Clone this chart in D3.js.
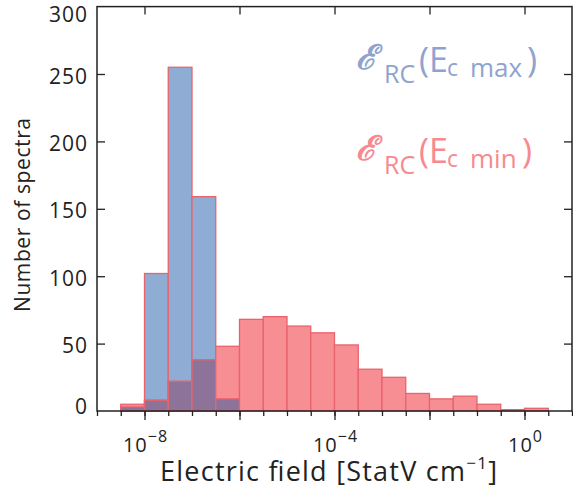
<!DOCTYPE html>
<html>
<head>
<meta charset="utf-8">
<script src="https://cdn.jsdelivr.net/npm/d3@7"></script>
<style>
  body { margin: 0; background: #fff; }
  svg text { font-family: "Open Sans", "DejaVu Sans", sans-serif; }
</style>
</head>
<body>
<div id="chart"></div>
<script>
// log10 of each bin's lower edge (bins are half a decade wide)
var binStarts = [-8.5, -8, -7.5, -7, -6.5, -6, -5.5, -5, -4.5, -4, -3.5, -3, -2.5, -2, -1.5, -1, -0.5, 0];
var countsMax = [3, 102, 255, 159, 9, 0, 0, 0, 0, 0, 0, 0, 0, 0, 0, 0, 0, 0];
var countsMin = [5, 8, 22, 38, 48, 68, 70, 63, 58, 49, 31, 25, 13, 9, 11, 5, 1, 2];
var yTicks = [0, 50, 100, 150, 200, 250, 300];
var xLabelExps = [-8, -4, 0];
var xMajorExps = [-8, -6, -4, -2, 0];

var W = 573, H = 498;
var plotL = 97, plotR = 572, plotT = 6.6, plotB = 411;

var blue = "#8fadd4", pink = "#f78e93", purple = "#8d7399", edge = "#e8636b", ink = "#222";

var svg = d3.select("#chart").append("svg")
    .attr("width", W)
    .attr("height", H);

var x = d3.scaleLog().domain([1e-9, 1e1]).range([plotL, plotR]);
var y = d3.scaleLinear().domain([0, 300]).range([plotB, plotT]);

var bins = binStarts.map(function(s, i) {
    return { lo: Math.pow(10, s), hi: Math.pow(10, s + 0.5), max: countsMax[i], min: countsMin[i] };
});

function bar(g, d, v, fill) {
    g.append("rect")
        .attr("x", x(d.lo))
        .attr("width", x(d.hi) - x(d.lo))
        .attr("y", y(v))
        .attr("height", y(0) - y(v))
        .style("fill", fill)
        .style("stroke", edge)
        .style("stroke-width", 1.3);
}

var bars = svg.append("g");
bins.forEach(function(d) {
    if (d.max > 0) bar(bars, d, d.max, blue);
    if (d.min > 0) bar(bars, d, d.min, pink);
    var both = Math.min(d.max, d.min);
    if (both > 0) bar(bars, d, both, purple);
});

// ticks
var halfDecades = d3.range(-9, 1.01, 0.5).map(function(e) { return Math.pow(10, e); });
var majors = xMajorExps.map(function(e) { return Math.pow(10, e); });

function tickStyle(g) {
    g.select(".domain").remove();
    g.selectAll("line").style("stroke", ink).style("stroke-width", 1.3);
    g.selectAll("text").remove();
}

svg.append("g").attr("transform", "translate(0," + plotB + ")")
    .call(d3.axisBottom(x).tickValues(halfDecades).tickSize(5)).call(tickStyle);
svg.append("g").attr("transform", "translate(0," + plotB + ")")
    .call(d3.axisBottom(x).tickValues(majors).tickSize(9)).call(tickStyle);
svg.append("g").attr("transform", "translate(0," + plotT + ")")
    .call(d3.axisBottom(x).tickValues(majors).tickSize(8)).call(tickStyle);
svg.append("g").attr("transform", "translate(" + plotL + ",0)")
    .call(d3.axisRight(y).tickValues(yTicks.slice(1, -1)).tickSize(8)).call(tickStyle);
svg.append("g").attr("transform", "translate(" + plotR + ",0)")
    .call(d3.axisLeft(y).tickValues(yTicks.slice(1, -1)).tickSize(8)).call(tickStyle);

// frame
svg.append("rect")
    .attr("x", plotL).attr("y", plotT)
    .attr("width", plotR - plotL).attr("height", plotB - plotT)
    .style("fill", "none").style("stroke", ink).style("stroke-width", 1.5);

// y tick labels (end labels are kept inside the frame height)
svg.selectAll(".ylab").data(yTicks).enter().append("text")
    .attr("x", 88)
    .attr("y", function(d) { return Math.min(406, Math.max(14, y(d) + 2)) + 7.5; })
    .attr("text-anchor", "end")
    .style("font-size", "21px")
    .style("letter-spacing", "1px")
    .style("fill", ink)
    .text(function(d) { return d; });

// x tick labels
xLabelExps.forEach(function(e) {
    var t = svg.append("text")
        .attr("x", x(Math.pow(10, e)) + 1)
        .attr("y", 452)
        .attr("text-anchor", "middle")
        .style("letter-spacing", "1px")
        .style("fill", ink);
    t.append("tspan").style("font-size", "20px").text("10");
    t.append("tspan").style("font-size", "16px").attr("dy", -10)
        .text(e < 0 ? "\u2212" + (-e) : e);
});

// axis titles
var xt = svg.append("text")
    .attr("x", 160).attr("y", 481)
    .attr("textLength", 337)
    .attr("lengthAdjust", "spacing")
    .style("fill", ink)
    .style("font-size", "27px");
xt.append("tspan").text("Electric field [StatV cm");
xt.append("tspan").style("font-size", "17px").attr("dy", -12).text("\u22121");
xt.append("tspan").attr("dy", 12).text("]");

svg.append("text")
    .attr("transform", "translate(30,312) rotate(-90)")
    .attr("textLength", 194)
    .attr("lengthAdjust", "spacing")
    .style("fill", ink)
    .style("font-size", "21px")
    .text("Number of spectra");

// legend
function legend(yb, word, color, closeX) {
    var g = svg.append("g").style("fill", color);
    g.append("text").attr("x", 356).attr("y", yb - 3)
        .style("font-family", "'DejaVu Serif', serif").style("font-style", "italic")
        .style("font-weight", "bold")
        .style("font-size", "34px").text("\u2130");
    g.append("text").attr("x", 384).attr("y", yb + 11).style("font-size", "25px").text("RC");
    g.append("text").attr("x", 419).attr("y", yb).style("font-size", "34px").text("(E");
    g.append("text").attr("x", 447).attr("y", yb + 4).style("font-size", "23px").text("c");
    g.append("text").attr("x", 470).attr("y", yb + 5).style("font-size", "26px").text(word);
    g.append("text").attr("x", closeX).attr("y", yb).style("font-size", "34px").text(")");
}
legend(72, "max", "#8fa3cf", 527);
legend(163, "min", "#f7898f", 522);
</script>
</body>
</html>
